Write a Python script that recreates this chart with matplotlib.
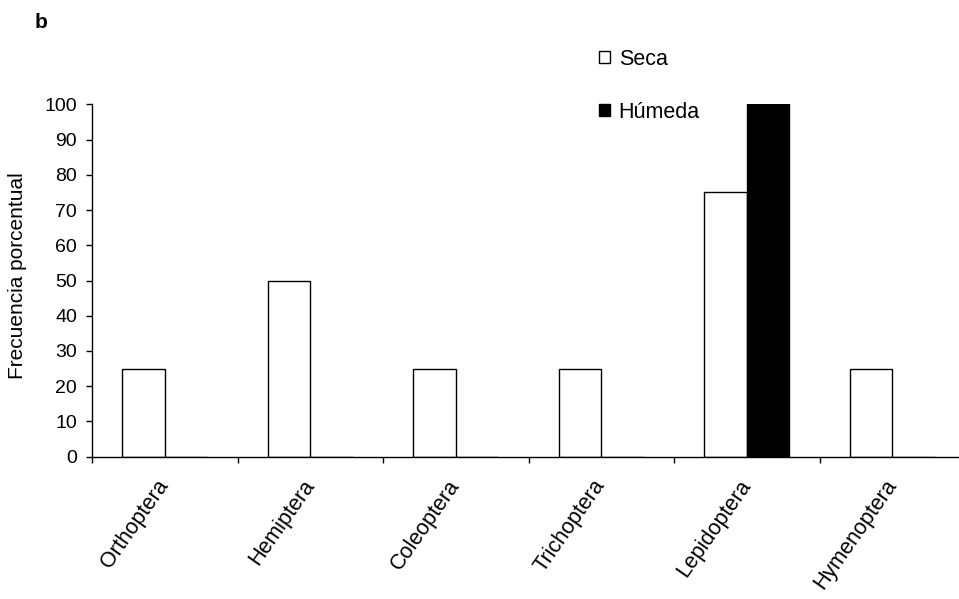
import matplotlib
matplotlib.use('Agg')
import matplotlib.pyplot as plt
import numpy as np

plt.rcParams['font.family'] = ['Liberation Sans', 'DejaVu Sans']

# Percent frequency of each insect order by season
orders = ['Orthoptera', 'Hemiptera', 'Coleoptera', 'Trichoptera', 'Lepidoptera', 'Hymenoptera']
seca = [25, 50, 25, 25, 75, 25]
humeda = [0, 0, 0, 0, 100, 0]
yticks = list(range(0, 101, 10))

fig = plt.figure(figsize=(9.59, 5.99), dpi=100)
ax = fig.add_axes([92 / 959, 1 - 456.7 / 599, 873 / 959, (456.7 - 104.3) / 599])

x = np.arange(len(orders))
w = 0.292
b1 = ax.bar(x - w, seca, width=w, align='edge', color='white', edgecolor='black', linewidth=1.0, label='Seca')
b2 = ax.bar(x, humeda, width=w, align='edge', color='black', edgecolor='black', linewidth=1.0, label='Húmeda')

ax.set_xlim(-0.5, len(orders) - 0.5)
ax.set_ylim(0, 100)
ax.set_yticks(yticks)
ax.tick_params(axis='y', direction='out', length=4.3, width=1, labelsize=14, pad=6.5)

# category labels at the centres, tick marks on the boundaries
ax.set_xticks(x)
ax.set_xticklabels(orders, rotation=55, ha='right', va='center', rotation_mode='anchor', fontsize=15.5)
ax.tick_params(axis='x', which='major', length=0, pad=18)
ax.set_xticks(np.arange(-0.5, len(orders)), minor=True)
ax.tick_params(axis='x', which='minor', direction='out', length=4.3, width=1)

for s in ['top', 'right']:
    ax.spines[s].set_visible(False)
for s in ['left', 'bottom']:
    ax.spines[s].set_linewidth(1.0)
    ax.spines[s].set_color('black')

ax.set_ylabel('Frecuencia porcentual', fontsize=15)
ax.yaxis.set_label_coords(-65 / 873, 0.515)

ax.legend(handles=[b1, b2], loc='upper left', bbox_to_anchor=(588 / 959, 1 - 38 / 599),
          bbox_transform=fig.transFigure, frameon=False, fontsize=15.5,
          handlelength=0.5, handleheight=0.5, handletextpad=0.42, labelspacing=1.48, borderpad=0)

fig.text(41 / 959, 1 - 22 / 599, 'b', fontsize=15, fontweight='bold', ha='center', va='center')

fig.savefig('out.png', dpi=100)
